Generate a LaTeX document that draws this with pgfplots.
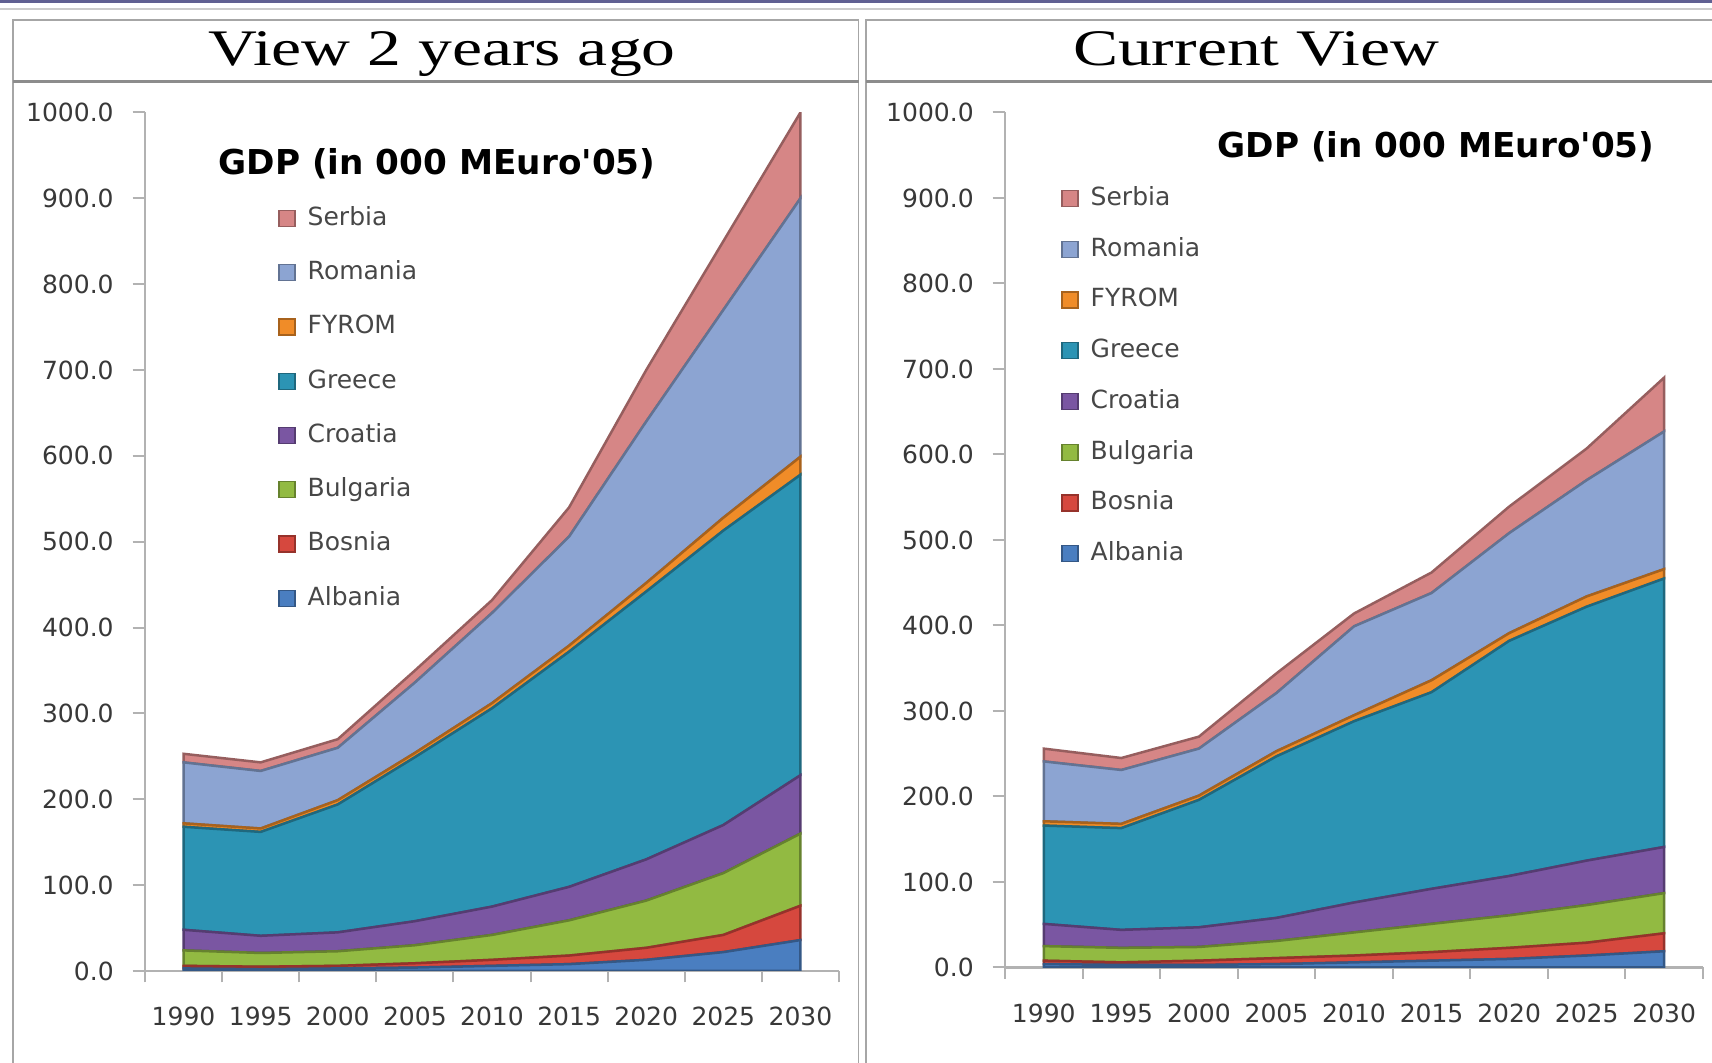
\documentclass[border=0pt]{standalone}
\usepackage{fontspec}
\setmainfont{DejaVu Sans}
\newfontfamily\titlefont[FakeStretch=1.32]{Liberation Serif}
\usepackage{pgfplots}
\usepackage{pgfplotstable}
\pgfplotsset{compat=1.18}

\definecolor{cAlb}{RGB}{74,126,192}
\definecolor{cBos}{RGB}{214,72,62}
\definecolor{cBul}{RGB}{146,186,66}
\definecolor{cCro}{RGB}{122,86,162}
\definecolor{cGre}{RGB}{44,148,180}
\definecolor{cFyr}{RGB}{240,140,40}
\definecolor{cRom}{RGB}{140,164,210}
\definecolor{cSer}{RGB}{214,134,134}
\definecolor{topline}{RGB}{96,96,146}

% GDP by country, in 000 MEuro'05 (one column per country, stacked)
\pgfplotstableread{
year Albania Bosnia Bulgaria Croatia Greece FYROM Romania Serbia
1990 3  3  18 24 120 4  71  10
1995 2  3  16 20 121 4  67  10
2000 3  3  17 22 149 5  61  10
2005 4  5  21 28 191 5  82  14
2010 6  7  29 33 231 6  105 15
2015 8  10 41 39 274 7  127 34
2020 13 14 55 48 312 10 188 60
2025 22 20 72 56 343 15 242 80
2030 36 40 84 68 350 21 301 100
}\olddata

\pgfplotstableread{
year Albania Bosnia Bulgaria Croatia Greece FYROM Romania Serbia
1990 4  4  17 26 115 5  70  15
1995 3  3  17 21 119 5  63  14
2000 3  5  16 23 149 5  55  14
2005 4  7  20 27 189 6  68  23
2010 6  8  27 35 212 7  104 15
2015 8  10 33 41 230 14 102 24
2020 10 13 38 46 275 9  117 31
2025 14 15 44 52 297 12 136 37
2030 19 21 47 54 314 11 161 63
}\newdata

\pgfplotsset{
  gdp/.style={
    scale only axis,
    xmin=1987.5, xmax=2032.5, ymin=0, ymax=1000,
    axis x line*=bottom, axis y line*=left,
    axis line style={draw=black!30, line width=0.9pt, -},
    xtick={1990,1995,...,2030},
    minor xtick={1987.5,1992.5,...,2032.5},
    major x tick style={draw=none},
    minor x tick style={draw=black!30, line width=0.8pt},
    minor tick length=4.5pt,
    ytick={0,100,...,1000},
    y tick style={draw=black!30, line width=0.8pt},
    tick align=outside, major tick length=5pt,
    scaled y ticks=false,
    xticklabel={\pgfmathprintnumber[1000 sep={},assume math mode=true]{\tick}},
    yticklabel={\pgfmathprintnumber[fixed,fixed zerofill,precision=1,1000 sep={},assume math mode=true]{\tick}},
    tick label style={font=\fontsize{10}{12}\selectfont, text=black!78},
    xticklabel style={yshift=-6pt},
    yticklabel style={xshift=-4pt},
    stack plots=y,
    legend entries={Albania,Bosnia,Bulgaria,Croatia,Greece,FYROM,Romania,Serbia},
    reverse legend,
    legend cell align=left,
    legend image code/.code={\filldraw[#1, line width=0.5pt] (0pt,-3.2pt) rectangle (6.4pt,3.2pt);},
    legend style={draw=none, fill=none, inner sep=0pt, anchor=north west,
      font=\fontsize{10}{12}\selectfont, text=black!72,
      nodes={inner sep=0pt, text height=7.5pt, text depth=2pt},
      /tikz/every odd column/.append style={column sep=4.8pt}},
  },
  ar/.style={fill=#1, draw=#1!70!black, line width=1pt},
}

\newcommand\gdpplots[1]{%
  \addplot[ar=cAlb] table[x=year,y=Albania]{#1} \closedcycle;
  \addplot[ar=cBos] table[x=year,y=Bosnia]{#1} \closedcycle;
  \addplot[ar=cBul] table[x=year,y=Bulgaria]{#1} \closedcycle;
  \addplot[ar=cCro] table[x=year,y=Croatia]{#1} \closedcycle;
  \addplot[ar=cGre] table[x=year,y=Greece]{#1} \closedcycle;
  \addplot[ar=cFyr] table[x=year,y=FYROM]{#1} \closedcycle;
  \addplot[ar=cRom] table[x=year,y=Romania]{#1} \closedcycle;
  \addplot[ar=cSer] table[x=year,y=Serbia]{#1} \closedcycle;
}

% straight apostrophe, bypassing the TeX ligature mapping
\newcommand\sq{\XeTeXglyph\XeTeXcharglyph"0027\relax}
\newcommand\gdptitle{GDP (in 000 MEuro\sq 05)}

\begin{document}
\begin{tikzpicture}
\path[use as bounding box] (0,0) rectangle (684.8pt,425.2pt);
\fill[white] (0,0) rectangle (684.8pt,425.2pt);
% frames
\fill[topline] (0,423.8pt) rectangle (684.8pt,425.2pt);
\draw[black!20, line width=0.6pt] (0,421.6pt) -- (684.8pt,421.6pt);
\draw[black!35, line width=0.6pt] (5.2pt,-1pt) -- (5.2pt,417.2pt) -- (343.4pt,417.2pt) -- (343.4pt,-1pt);
\draw[black!35, line width=0.6pt] (346.4pt,-1pt) -- (346.4pt,417.2pt) -- (686pt,417.2pt);
\draw[black!45, line width=1.2pt] (5.2pt,392.4pt) -- (343.4pt,392.4pt);
\draw[black!45, line width=1.2pt] (346.4pt,392.4pt) -- (686pt,392.4pt);
\node[font=\titlefont\fontsize{20.5}{24}\selectfont, anchor=base] at (176.8pt,399pt) {View 2 years ago};
\node[font=\titlefont\fontsize{20.5}{24}\selectfont, anchor=base] at (502.4pt,399pt) {Current View};

\begin{axis}[gdp, at={(58pt,36.8pt)}, anchor=south west, width=277.6pt, height=343.4pt,
  legend style={at={(0.1916,0.891)}, /tikz/row sep=12.2pt}]
  \gdpplots{\olddata}
\end{axis}
\node[font=\bfseries\fontsize{13.7}{16}\selectfont] at (174.8pt,359.6pt) {\gdptitle};

\begin{axis}[gdp, at={(402pt,38.2pt)}, anchor=south west, width=279.2pt, height=342pt,
  legend style={at={(0.0802,0.914)}, /tikz/row sep=10.8pt}]
  \gdpplots{\newdata}
\end{axis}
\node[font=\bfseries\fontsize{13.7}{16}\selectfont] at (574.4pt,366.4pt) {\gdptitle};
\end{tikzpicture}
\end{document}
